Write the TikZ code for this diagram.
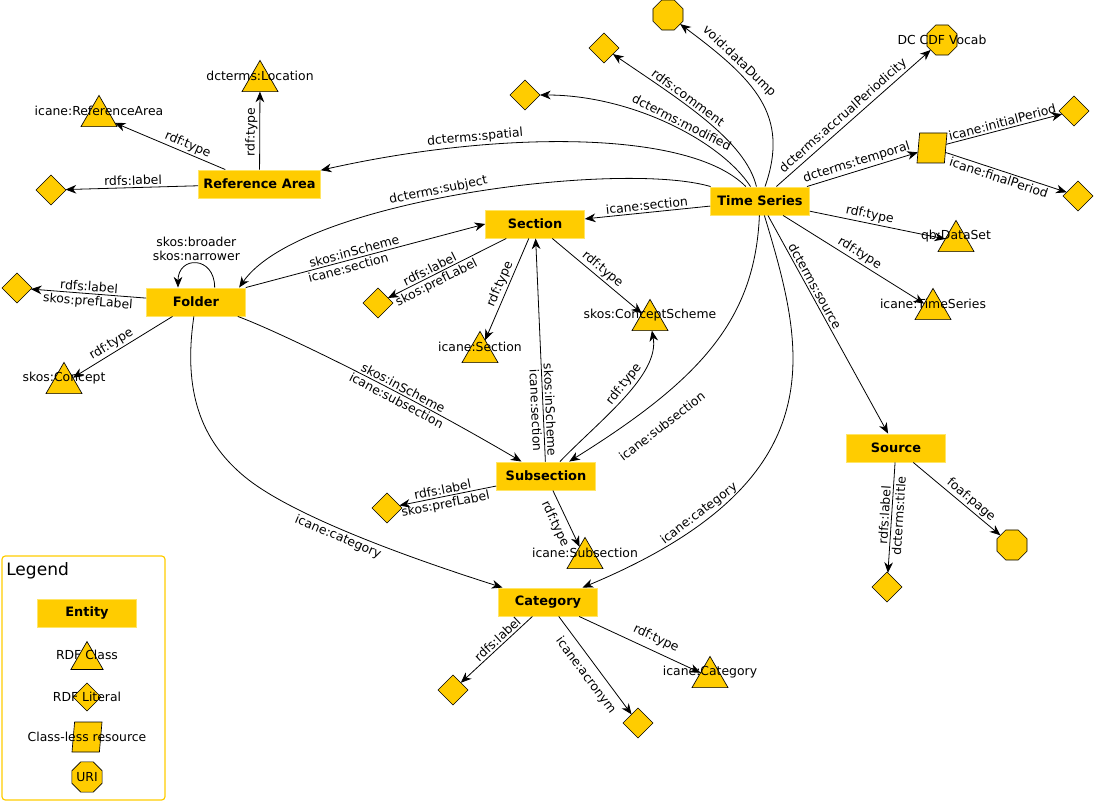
\documentclass[tikz,border=0pt]{standalone}
\usepackage{fontspec}
\setmainfont{DejaVu Sans}
\usetikzlibrary{shapes.geometric,arrows.meta}
\definecolor{gold}{HTML}{FFCC00}
\definecolor{goldlt}{HTML}{FFE566}
\definecolor{golddk}{HTML}{B09008}
\newcommand\lblfont{\fontsize{9.3}{10.5}\selectfont}
\newcommand\entfont{\fontsize{9.7}{11}\selectfont\bfseries}
\begin{document}
\begin{tikzpicture}[x=0.75pt,y=-0.75pt,
  entity/.style={rectangle, fill=gold, draw=goldlt, line width=0.7pt, minimum width=74pt, minimum height=21pt, inner xsep=3.5pt, font=\entfont,
    append after command={\pgfextra{\draw[golddk, line width=0.7pt] (\tikzlastnode.south west) -- (\tikzlastnode.south east) -- (\tikzlastnode.north east);}}},
  cls/.style={regular polygon, regular polygon sides=3, minimum size=31.2pt, inner sep=0pt, outer sep=0pt, draw=black, line width=0.5pt, fill=gold, yshift=-3.9pt, label={[font=\lblfont, inner sep=0pt, yshift=3.9pt]center:{#1}}},
  lit/.style={diamond, aspect=1, minimum size=22.5pt, inner sep=0pt, outer sep=0pt, draw=black, line width=0.5pt, fill=gold},
  uri/.style={regular polygon, regular polygon sides=8, minimum size=24.4pt, inner sep=0pt, outer sep=0pt, draw=black, line width=0.5pt, fill=gold, font=\lblfont},
  cless/.style={trapezium, trapezium left angle=84, trapezium right angle=96, trapezium stretches=true, minimum width=22.5pt, minimum height=22.5pt, inner sep=1pt, outer sep=0pt, draw=black, line width=0.5pt, fill=gold},
  arr/.style={draw=black, line width=0.6pt, -{Stealth[length=8pt,width=6.5pt,inset=2.5pt]}},
  elab/.style={font=\lblfont, sloped, inner sep=1.5pt},
]
\useasboundingbox (0,0) rectangle (1095,802);

% entities
\node[entity] (ts)  at (760,201)   {Time Series};
\node[entity] (ra)  at (259.5,184) {Reference Area};
\node[entity] (sec) at (535,224)   {Section};
\node[entity] (fol) at (196,302)   {Folder};
\node[entity] (sub) at (546,476)   {Subsection};
\node[entity] (src) at (896,448)   {Source};
\node[entity] (cat) at (548,602)   {Category};

% classes
\node[cls={dcterms:Location}]     (cLoc) at (260,76)  {};
\node[cls={icane:ReferenceArea}]  (cRA)  at (99,111)  {};
\node[cls={skos:Concept}]         (cCon) at (64,378)  {};
\node[cls={icane:Section}]        (cSec) at (480,347) {};
\node[cls={skos:ConceptScheme}]   (cCS)  at (650,315) {};
\node[cls={qb:DataSet}]           (cDS)  at (956,236) {};
\node[cls={icane:TimeSeries}]     (cTS)  at (933,304) {};
\node[cls={icane:Subsection}]     (cSub) at (585,553) {};
\node[cls={icane:Category}]       (cCat) at (710,672) {};

% literals
\node[lit] (lRA)   at (51,190)   {};
\node[lit] (lFol)  at (17,288)   {};
\node[lit] (lSec)  at (378,303)  {};
\node[lit] (lSub)  at (387,508)  {};
\node[lit] (lCat1) at (453,690)  {};
\node[lit] (lCat2) at (638,723)  {};
\node[lit] (lSrc)  at (887,587)  {};
\node[lit] (lMod)  at (525,95)   {};
\node[lit] (lCom)  at (604,48)   {};
\node[lit] (lIni)  at (1074,111) {};
\node[lit] (lFin)  at (1078,196) {};

% URIs and class-less resource
\node[uri] (uDump) at (668,15) {};
\node[uri, label={[font=\lblfont, inner sep=0pt]center:{DC CDF Vocab}}] (uDC) at (942,40) {};
\node[uri] (uPage) at (1012,545) {};
\node[cless] (tmp) at (932,148) {};

% edges: Reference Area
\draw[arr] (ra) -- (cRA) node[elab, above, pos=.37] {rdf:type};
\draw[arr] (ra) -- (cLoc) node[elab, above, pos=.48] {rdf:type};
\draw[arr] (ra) -- (lRA) node[elab, above, pos=.49] {rdfs:label};

% edges: Time Series
\draw[arr] (ts) .. controls (690,130) and (500,130) .. (ra) node[elab, above, pos=.71] {dcterms:spatial};
\draw[arr] (ts) .. controls (620,160) and (300,200) .. ([xshift=-5pt]fol.north east) node[elab, above, pos=.54] {dcterms:subject};
\draw[arr] (ts) -- (sec) node[elab, above, pos=.5] {icane:section};
\draw[arr] (ts) .. controls (720,140) and (630,95) .. (lMod) node[elab, above, pos=.45] {dcterms:modified};
\draw[arr] (ts) .. controls (745,140) and (680,100) .. (lCom) node[elab, above, pos=.63] {rdfs:comment};
\draw[arr] (ts) .. controls (790,115) and (755,80) .. (uDump) node[elab, above, pos=.72] {void:dataDump};
\draw[arr] (ts) -- (uDC) node[elab, above, pos=.47] {dcterms:accrualPeriodicity};
\draw[arr] (ts) -- (tmp) node[elab, above, pos=.47] {dcterms:temporal};
\draw[arr] (tmp) -- (lIni) node[elab, above, pos=.5] {icane:initialPeriod};
\draw[arr] (tmp) -- (lFin) node[elab, below, pos=.46] {icane:finalPeriod};
\draw[arr] (ts) -- (cDS) node[elab, above, pos=.43] {rdf:type};
\draw[arr] (ts) -- (cTS) node[elab, above, pos=.51] {rdf:type};
\draw[arr] (ts) -- (src) node[elab, above, pos=.34] {dcterms:source};
\draw[arr] (ts) .. controls (805,350) and (840,480) .. (cat) node[elab, above, pos=.8] {icane:category};
\draw[arr] (ts) .. controls (755,320) and (700,380) .. (sub) node[elab, below=12pt, pos=.77] {icane:subsection};

% edges: Subsection / Section
\draw[arr] (sub) .. controls (600,420) and (660,375) .. (cCS) node[elab, above, pos=.56] {rdf:type};
\draw[arr] (sub) -- (sec) node[elab, above, pos=.23] {skos:inScheme} node[elab, below, pos=.23] {icane:section};
\draw[arr] (sec) -- (cSec) node[elab, above, pos=.48] {rdf:type};
\draw[arr] (sec) -- (cCS) node[elab, above, pos=.5] {rdf:type};
\draw[arr] (sec) -- (lSec) node[elab, above, pos=.62] {rdfs:label} node[elab, below, pos=.62] {skos:prefLabel};
\draw[arr] (sub) -- (lSub) node[elab, above, pos=.54] {rdfs:label} node[elab, below, pos=.54] {skos:prefLabel};
\draw[arr] (sub) -- (cSub) node[elab, below=3pt, pos=.5] {rdf:type};

% edges: Folder
\draw[arr] (fol.north east) -- (sec.west) node[elab, above, pos=.46] {skos:inScheme} node[elab, below, pos=.42] {icane:section};
\draw[arr] ([xshift=14pt]fol.north) .. controls +(0,-32) and +(0,-32) .. ([xshift=-13.5pt]fol.north)
  node[pos=.5, above, align=center, font=\lblfont, inner sep=2pt] {skos:broader\\skos:narrower};
\draw[arr] (fol) -- (lFol) node[elab, above, pos=.5] {rdfs:label} node[elab, below, pos=.5] {skos:prefLabel};
\draw[arr] (fol) -- (cCon) node[elab, above, pos=.57] {rdf:type};
\draw[arr] ([xshift=-6pt]fol.south east) .. controls (275,330) and (400,390) .. (sub) node[elab, above, pos=.66] {skos:inScheme} node[elab, below, pos=.66] {icane:subsection};
\draw[arr] (fol) .. controls (183,390) and (200,440) .. (245,477) .. controls (290,514) and (400,555) .. (cat) node[elab, below, pos=.46] {icane:category};

% edges: Category
\draw[arr] (cat) -- (lCat1) node[elab, above, pos=.42] {rdfs:label};
\draw[arr] (cat) -- (lCat2) node[elab, below=4pt, pos=.52] {icane:acronym};
\draw[arr] (cat) -- (cCat) node[elab, above=3pt, pos=.59] {rdf:type};

% edges: Source
\draw[arr] (src) -- (lSrc) node[elab, above, pos=.48] {rdfs:label} node[elab, below, pos=.48] {dcterms:title};
\draw[arr] (src) -- (uPage) node[elab, above, pos=.6] {foaf:page};

% legend
\draw[gold, line width=0.9pt, rounded corners=2.5pt] (2,556) rectangle (165,800);
\node[anchor=west, font=\fontsize{12.8}{14}\selectfont, inner sep=0pt] (lgT) at (6,571) {Legend};
\node[entity] (lgE) at (87,613) {Entity};
\node[cls={RDF Class}, minimum size=28pt] (lgC) at (87,655) {};
\node[lit, minimum size=21pt, label={[font=\lblfont, inner sep=0pt]center:{RDF Literal}}] (lgL) at (87,697) {};
\node[cless, label={[font=\lblfont, inner sep=0pt]center:{Class-less resource}}] (lgR) at (87,737) {};
\node[uri] (lgU) at (87,777) {URI};
\end{tikzpicture}
\end{document}
